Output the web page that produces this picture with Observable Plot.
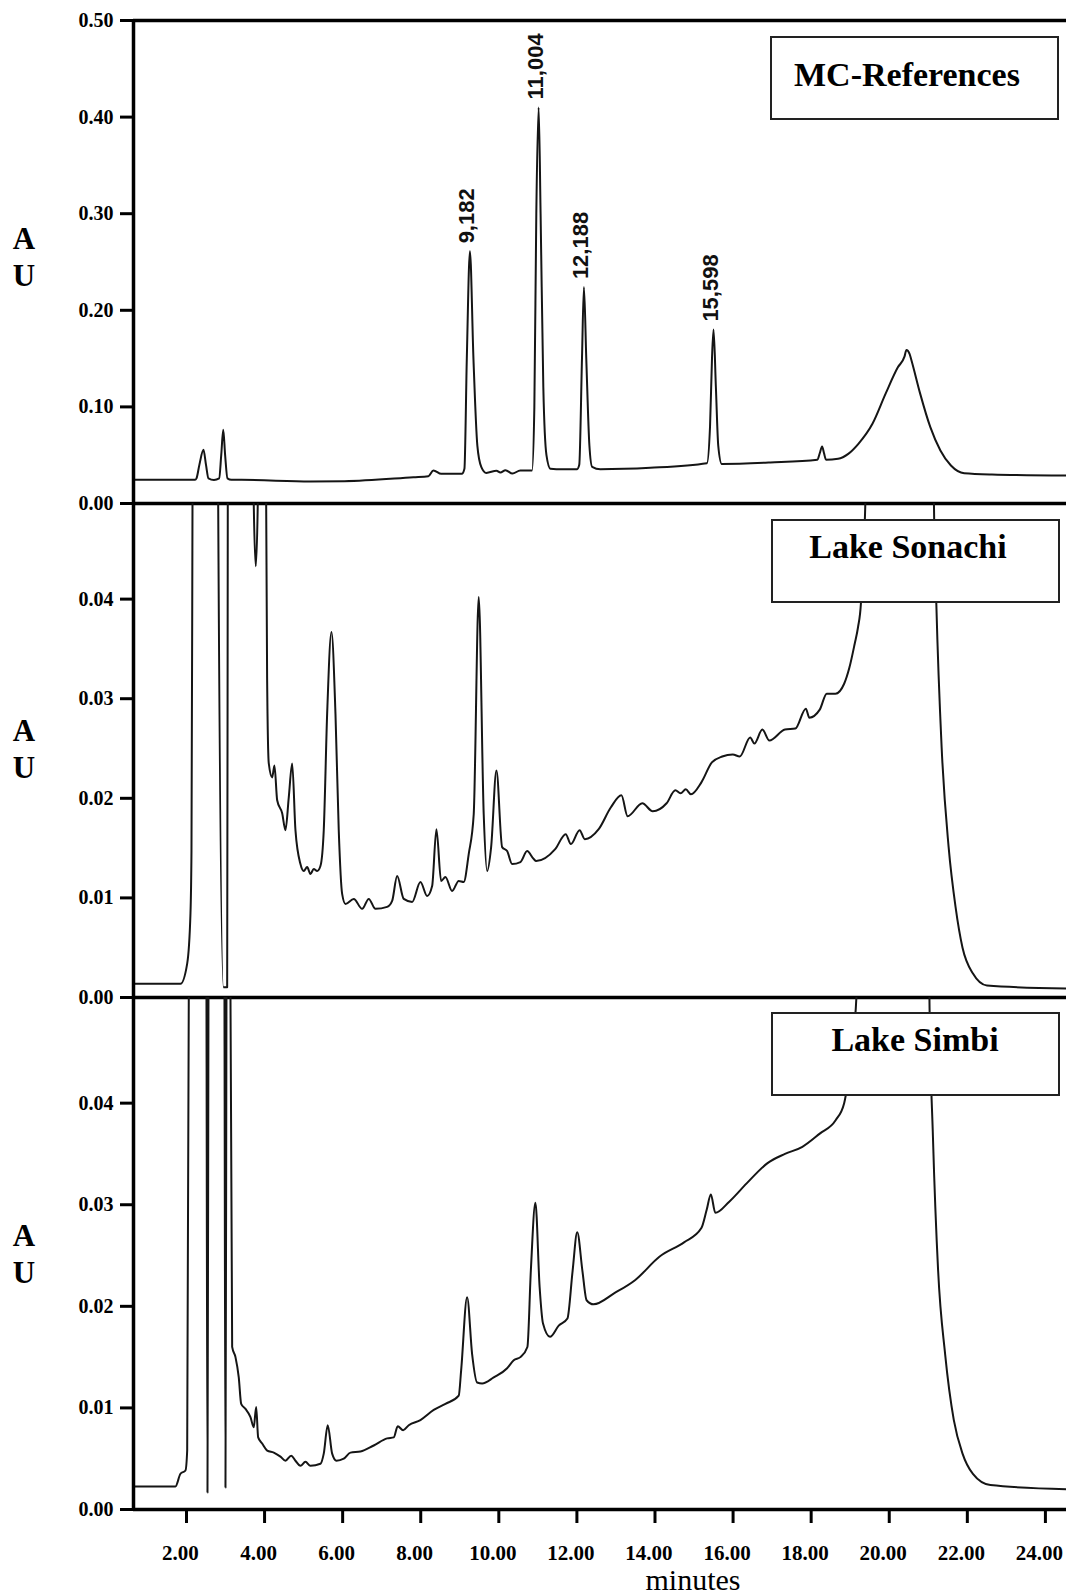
<!DOCTYPE html>
<html>
<head>
<meta charset="utf-8">
<script src="https://cdn.jsdelivr.net/npm/d3@7"></script>
<script src="https://cdn.jsdelivr.net/npm/@observablehq/plot@0.6"></script>
<style>
  html, body { margin: 0; padding: 0; background: #fff; }
  #wrap { position: relative; width: 1066px; height: 1596px; overflow: hidden; background: #fff; }
</style>
</head>
<body>
<div id="wrap"></div>
<script>
// ---------- data (minutes, AU) ----------
const xTicks = [2, 4, 6, 8, 10, 12, 14, 16, 18, 20, 22, 24];
const refTicks = [0, 0.1, 0.2, 0.3, 0.4, 0.5];
const lakeTicks = [0, 0.01, 0.02, 0.03, 0.04];
const panelNames = ["MC-References", "Lake Sonachi", "Lake Simbi"];
const xLabel = "minutes";

const refTime = [0.643,0.763,2.22,2.256,2.33,2.435,2.5,2.563,2.704,2.837,2.89,2.942,2.99,3.05,3.152,3.408,5.175,6.046,7.813,8.197,8.325,8.525,9.052,9.119,9.18,9.26,9.35,9.45,9.55,9.68,9.94,10.04,10.17,10.35,10.55,10.85,10.91,10.96,11.02,11.07,11.14,11.22,11.32,11.475,12.005,12.06,12.13,12.18,12.24,12.32,12.39,12.6,13.88,15.33,15.41,15.46,15.5,15.56,15.62,15.71,16.955,18.16,18.22,18.28,18.33,18.38,18.69,18.95,19.21,19.57,19.91,20.22,20.39,20.44,20.52,20.57,20.79,21.05,21.31,21.58,21.92,22.63,24.54];
const refAU = [0.0245,0.0245,0.0245,0.026,0.04,0.0556,0.04,0.026,0.0243,0.026,0.05,0.0763,0.05,0.026,0.0245,0.0245,0.0228,0.0231,0.0272,0.0282,0.0342,0.0307,0.0307,0.036,0.15,0.261,0.15,0.06,0.038,0.0317,0.034,0.032,0.0345,0.031,0.0342,0.0342,0.1,0.3,0.41,0.3,0.12,0.05,0.036,0.0355,0.0355,0.04,0.15,0.224,0.15,0.06,0.038,0.0355,0.037,0.0417,0.08,0.15,0.18,0.12,0.06,0.041,0.0425,0.0453,0.052,0.059,0.052,0.0453,0.0463,0.0514,0.0618,0.0825,0.114,0.141,0.152,0.159,0.155,0.148,0.114,0.0793,0.0549,0.0393,0.0313,0.03,0.029];

const sonTime = [0.643,1.846,2.018,2.102,2.128,2.154,2.18,2.78,2.812,2.947,3.042,3.058,3.08,3.7,3.723,3.775,3.826,3.85,4.02,4.041,4.066,4.108,4.195,4.253,4.323,4.451,4.535,4.62,4.707,4.791,4.919,5.004,5.091,5.175,5.26,5.347,5.431,5.516,5.603,5.713,5.816,5.9,5.987,6.072,6.284,6.499,6.668,6.84,7.14,7.268,7.396,7.565,7.78,7.992,8.164,8.292,8.402,8.522,8.632,8.804,8.973,9.101,9.229,9.357,9.485,9.613,9.7,9.803,9.939,10.085,10.213,10.341,10.553,10.725,10.894,10.955,11.444,11.713,11.846,12.069,12.202,12.558,12.871,13.14,13.298,13.675,13.941,14.297,14.522,14.655,14.789,14.922,15.188,15.457,15.723,15.992,16.171,16.438,16.545,16.75,16.93,17.329,17.595,17.864,17.954,18.22,18.399,18.622,18.845,18.978,19.114,19.201,19.273,19.337,19.387,19.45,21.1,21.145,21.206,21.342,21.521,21.698,21.877,22.144,22.502,24.54];
const sonAU = [0.00137,0.00137,0.0034,0.0084,0.0147,0.0496,0.09,0.09,0.0496,0.00103,0.00103,0.0496,0.09,0.09,0.0496,0.0433,0.0496,0.09,0.09,0.0496,0.0318,0.0235,0.0221,0.0233,0.0198,0.0185,0.0168,0.0201,0.0235,0.0168,0.0134,0.0127,0.0131,0.0124,0.0129,0.0127,0.0132,0.0168,0.0285,0.0367,0.0285,0.0168,0.0104,0.0094,0.0099,0.0089,0.0099,0.0089,0.0091,0.0097,0.0122,0.0099,0.0096,0.0116,0.0102,0.0112,0.0169,0.0117,0.0121,0.0107,0.0117,0.0116,0.0144,0.0184,0.0402,0.0184,0.0127,0.0151,0.0228,0.0151,0.0147,0.0134,0.0136,0.0147,0.0139,0.0137,0.0149,0.0164,0.0154,0.0168,0.0159,0.0169,0.0191,0.0203,0.0182,0.0195,0.0187,0.0195,0.0208,0.0205,0.0209,0.0204,0.0216,0.0236,0.0242,0.0244,0.0242,0.0261,0.0255,0.0269,0.0258,0.0269,0.027,0.029,0.0281,0.0289,0.0305,0.0305,0.0315,0.0331,0.0355,0.0372,0.0395,0.0452,0.0496,0.09,0.09,0.0496,0.0395,0.0251,0.0151,0.0091,0.005,0.0024,0.0012,0.0009];

const simTime = [0.643,1.718,1.846,1.974,2.018,2.059,2.08,2.49,2.512,2.538,2.563,2.59,2.95,2.973,2.999,3.024,3.05,3.1,3.127,3.17,3.255,3.339,3.401,3.511,3.639,3.723,3.785,3.836,3.939,4.067,4.236,4.407,4.535,4.681,4.791,4.919,5.047,5.175,5.431,5.516,5.618,5.731,5.841,6.028,6.2,6.456,6.796,7.14,7.309,7.411,7.549,7.693,7.992,8.333,8.633,8.973,9.035,9.188,9.316,9.444,9.572,9.869,10.213,10.382,10.553,10.732,10.82,10.937,11.045,11.132,11.311,11.534,11.757,11.89,12.008,12.141,12.248,12.425,12.96,13.496,14.12,14.743,15.188,15.324,15.431,15.546,15.902,16.348,16.883,17.329,17.775,18.22,18.622,18.845,18.934,19.068,19.157,19.2,21.0,21.029,21.119,21.252,21.431,21.654,21.877,22.143,22.589,24.54];
const simAU = [0.00227,0.00227,0.00352,0.00384,0.0058,0.0504,0.09,0.09,0.0504,0.00167,0.0504,0.09,0.09,0.0504,0.00217,0.0504,0.09,0.09,0.0504,0.016,0.015,0.013,0.0104,0.0099,0.0091,0.0081,0.0101,0.0071,0.0065,0.0058,0.0056,0.0052,0.0048,0.0053,0.0048,0.0043,0.0047,0.0043,0.0045,0.0055,0.0083,0.0055,0.0048,0.005,0.0056,0.0057,0.0063,0.007,0.0071,0.0082,0.0078,0.0083,0.0088,0.0098,0.0104,0.0112,0.0137,0.0209,0.0153,0.0125,0.0124,0.013,0.0139,0.0147,0.015,0.016,0.0235,0.0302,0.0219,0.0183,0.017,0.0181,0.0188,0.0235,0.0273,0.0235,0.0206,0.0202,0.0213,0.0226,0.0249,0.0263,0.0277,0.0295,0.031,0.0292,0.0303,0.0321,0.0341,0.035,0.0357,0.037,0.0383,0.04,0.0419,0.0465,0.0503,0.09,0.09,0.0504,0.0367,0.0235,0.0153,0.0088,0.0055,0.0035,0.0024,0.002];

const peakLabels = ["9,182", "11,004", "12,188", "15,598"];
const peakTime = [9.26, 11.02, 12.18, 15.50];
const peakAU = [0.261, 0.41, 0.224, 0.18];

// ---------- build ----------
const zip = (t, v) => t.map((d, i) => ({t: d, v: v[i]}));
const refData = zip(refTime, refAU);
const sonData = zip(sonTime, sonAU);
const simData = zip(simTime, simAU);
const peaks = peakLabels.map((l, i) => ({label: l, t: peakTime[i], v: peakAU[i]}));

const xDomain = [0.643, 24.54];
const fmt = d3.format(".2f");
const baseStyle = {background: "transparent", overflow: "visible", fontFamily: "'Liberation Serif', 'Times New Roman', serif", fontSize: "20px", fontWeight: "bold", color: "#000"};
const AXW = 3.5;

function panel({data, yDomain, yTicks, top, height, mt, mb, withX, extra = []}) {
  const marks = [
    Plot.line(data, {x: "t", y: "v", clip: true, curve: "monotone-x", stroke: "#151515", strokeWidth: 2, strokeLinejoin: "round"}),
    Plot.axisY({ticks: yTicks, tickFormat: fmt, tickSize: 13, tickPadding: 7, strokeWidth: 3, label: null}),
    Plot.ruleY([yDomain[0]], {strokeWidth: AXW}),
    Plot.ruleX([xDomain[0]], {strokeWidth: AXW}),
    ...extra
  ];
  if (withX) {
    marks.push(Plot.axisX({ticks: xTicks, tickSize: 14, strokeWidth: 3, text: null, label: null}));
    marks.push(Plot.axisX({ticks: xTicks, tickFormat: fmt, tickSize: 0, tickPadding: 36, dx: -6, fontSize: 21, label: null}));
  }
  const svg = Plot.plot({
    width: 1066, height, marginLeft: 133, marginRight: 0, marginTop: mt, marginBottom: mb,
    style: baseStyle,
    x: {domain: xDomain, axis: null},
    y: {domain: yDomain, axis: null},
    marks
  });
  svg.style.position = "absolute";
  svg.style.top = top + "px";
  svg.style.left = "0px";
  return svg;
}

const wrap = document.getElementById("wrap");
wrap.appendChild(panel({
  data: refData, yDomain: [0, 0.5], yTicks: refTicks, top: 0, height: 515, mt: 20, mb: 12, withX: false,
  extra: [
    Plot.ruleY([0.5], {strokeWidth: AXW}),
    Plot.text(peaks, {x: "t", y: "v", text: "label", rotate: -90, textAnchor: "start", lineAnchor: "middle", dy: -8, dx: -3,
      fontFamily: "'Liberation Sans', Arial, sans-serif", fontSize: 22, fontWeight: "bold", fill: "#111"})
  ]
}));
wrap.appendChild(panel({data: sonData, yDomain: [0, 0.0496], yTicks: lakeTicks, top: 491, height: 518, mt: 12, mb: 12, withX: false}));
wrap.appendChild(panel({data: simData, yDomain: [0, 0.0504], yTicks: lakeTicks, top: 985, height: 611, mt: 12, mb: 87, withX: true}));

// ---------- annotations overlay ----------
const ns = "http://www.w3.org/2000/svg";
const ov = document.createElementNS(ns, "svg");
ov.setAttribute("width", 1066); ov.setAttribute("height", 1596);
ov.style.position = "absolute"; ov.style.top = "0px"; ov.style.left = "0px";
ov.style.fontFamily = "'Liberation Serif', 'Times New Roman', serif";
function addText(x, y, s, size, weight, anchor = "middle") {
  const t = document.createElementNS(ns, "text");
  t.setAttribute("x", x); t.setAttribute("y", y);
  t.setAttribute("font-size", size); t.setAttribute("font-weight", weight);
  t.setAttribute("text-anchor", anchor); t.setAttribute("fill", "#000");
  t.textContent = s; ov.appendChild(t);
}
const boxes = [
  {x: 771, y: 37, w: 287, h: 82, tx: 907, ty: 86},
  {x: 772, y: 520, w: 287, h: 82, tx: 908, ty: 558},
  {x: 772, y: 1013, w: 287, h: 82, tx: 915, ty: 1051}
];
boxes.forEach((b, i) => {
  const r = document.createElementNS(ns, "rect");
  r.setAttribute("x", b.x); r.setAttribute("y", b.y); r.setAttribute("width", b.w); r.setAttribute("height", b.h);
  r.setAttribute("fill", "#fff"); r.setAttribute("stroke", "#222"); r.setAttribute("stroke-width", 2);
  ov.appendChild(r);
  addText(b.tx, b.ty, panelNames[i], 34, "bold");
});
[[249, 286], [741, 778], [1246, 1283]].forEach(([a, u]) => {
  addText(24, a, "A", 31, "bold");
  addText(24, u, "U", 31, "bold");
});
addText(693, 1590, xLabel, 30, "normal");
wrap.appendChild(ov);
</script>
</body>
</html>
